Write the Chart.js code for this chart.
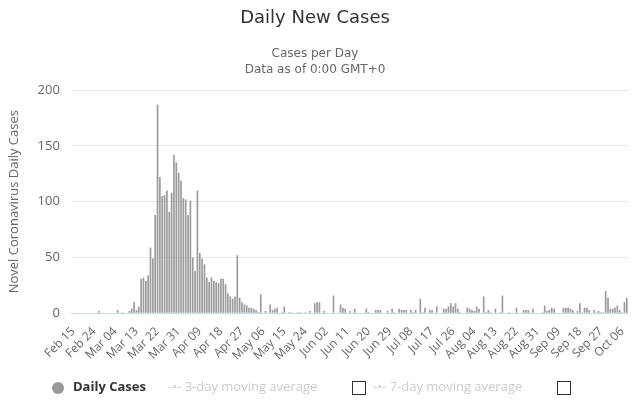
<!DOCTYPE html>
<html>
<head>
<meta charset="utf-8">
<script src="https://cdn.jsdelivr.net/npm/chart.js@4.4.0/dist/chart.umd.min.js"></script>
<style>
  body { margin: 0; background: #fff; }
  #wrap { position: relative; width: 640px; height: 400px; }
  #legend {
    position: absolute; left: 0; top: 377px; width: 640px;
    font-family: "Open Sans", sans-serif; font-size: 13px;
  }
  #legend span { position: absolute; top: 0; white-space: nowrap; }
  .dot { width: 12px; height: 12px; border-radius: 50%; background: #999; display: inline-block; }
  .box { width: 12px; height: 12px; border: 1px solid #333; display: inline-block; }
</style>
</head>
<body>
<div id="wrap">
  <canvas id="casesChart" width="640" height="400"></canvas>
  <div id="legend">
    <span style="left:52px;top:3px"><i class="dot"></i></span>
    <span style="left:73px;color:#333;font-weight:bold">Daily Cases</span>
    <span style="left:168px;color:#ccc">-•- 3-day moving average</span>
    <span style="left:352px;top:4px"><i class="box"></i></span>
    <span style="left:373px;color:#ccc">-•- 7-day moving average</span>
    <span style="left:557px;top:4px"><i class="box"></i></span>
  </div>
</div>
<script>
/* ── data ───────────────────────────────────────────── */
const startDate = new Date(2020, 1, 15);
const tickEvery = 9;
const yTicks = [0, 50, 100, 150, 200];

const dailyCases = [
    0, 0, 0, 0, 0, 0, 0, 0, 0, 0,
    0, 2, 0, 0, 0, 0, 0, 0, 0, 3,
    0, 1, 0, 0, 2, 4, 10, 3, 6, 31,
    32, 29, 34, 59, 49, 88, 187, 122, 105, 106,
    110, 91, 108, 142, 135, 126, 119, 103, 102, 88,
    101, 50, 38, 110, 54, 49, 44, 32, 28, 32,
    29, 28, 27, 31, 31, 26, 18, 15, 13, 15,
    52, 14, 10, 8, 7, 5, 5, 4, 3, 1,
    17, 0, 2, 0, 8, 3, 4, 5, 0, 1,
    6, 0, 1, 1, 0, 0, 1, 1, 0, 1,
    0, 2, 0, 9, 10, 10, 0, 2, 0, 0,
    0, 16, 0, 0, 8, 5, 4, 0, 2, 0,
    4, 0, 0, 0, 0, 4, 1, 0, 0, 3,
    3, 3, 0, 0, 2, 0, 4, 1, 0, 4,
    3, 3, 3, 0, 3, 1, 3, 0, 13, 1,
    5, 0, 3, 3, 0, 6, 0, 0, 4, 4,
    6, 9, 6, 9, 4, 1, 0, 0, 5, 4,
    3, 2, 6, 4, 0, 15, 1, 3, 1, 0,
    4, 0, 1, 16, 0, 0, 1, 0, 0, 5,
    0, 0, 3, 3, 3, 0, 4, 0, 0, 0,
    1, 7, 2, 3, 5, 4, 0, 0, 0, 5,
    5, 5, 4, 3, 0, 2, 9, 1, 5, 5,
    3, 0, 3, 1, 2, 1, 1, 20, 14, 4,
    4, 5, 7, 3, 1, 10, 14,
];

const months = ['Jan','Feb','Mar','Apr','May','Jun','Jul','Aug','Sep','Oct','Nov','Dec'];
const labels = dailyCases.map((_, i) => {
    const d = new Date(startDate);
    d.setDate(d.getDate() + i);
    return months[d.getMonth()] + ' ' + String(d.getDate()).padStart(2, '0');
});

const muted = '#666666';
const grid = '#e6e6e6';

new Chart(document.getElementById('casesChart'), {
    type: 'bar',
    data: {
        labels,
        datasets: [{
            label: 'Daily Cases',
            data: dailyCases,
            backgroundColor: '#999999',
            barPercentage: 0.7,
            categoryPercentage: 1,
        }],
    },
    options: {
        responsive: false,
        animation: false,
        layout: { padding: { left: 2, right: 12, bottom: 34 } },
        plugins: {
            legend: { display: false },
            tooltip: { enabled: false },
            title: {
                display: true,
                text: 'Daily New Cases',
                color: '#333333',
                font: { family: 'DejaVu Sans', size: 18, weight: 'normal' },
                padding: { top: 8, bottom: 16 },
            },
            subtitle: {
                display: true,
                text: ['Cases per Day', 'Data as of 0:00 GMT+0'],
                color: muted,
                font: { family: 'DejaVu Sans', size: 12, lineHeight: 1.35 },
                padding: { bottom: 12 },
            },
        },
        scales: {
            x: {
                grid: { display: false },
                border: { color: '#ccd6eb' },
                // let the first rotated label hang under the y labels
                afterFit: axis => { axis.paddingLeft = 0; },
                ticks: {
                    autoSkip: false,
                    maxRotation: 45,
                    minRotation: 45,
                    color: muted,
                    font: { family: 'Open Sans', size: 12 },
                    callback: (v, i) => (i % tickEvery === 0 ? labels[i] : ''),
                },
            },
            y: {
                min: yTicks[0],
                max: yTicks[yTicks.length - 1],
                afterBuildTicks: axis => { axis.ticks = yTicks.map(v => ({ value: v })); },
                grid: { color: grid, drawTicks: false },
                border: { display: false },
                ticks: { color: muted, padding: 12, font: { family: 'Open Sans', size: 13 } },
                title: {
                    display: true,
                    text: 'Novel Coronavirus Daily Cases',
                    color: muted,
                    font: { family: 'Open Sans', size: 13 },
                },
            },
        },
    },
});
</script>
</body>
</html>
